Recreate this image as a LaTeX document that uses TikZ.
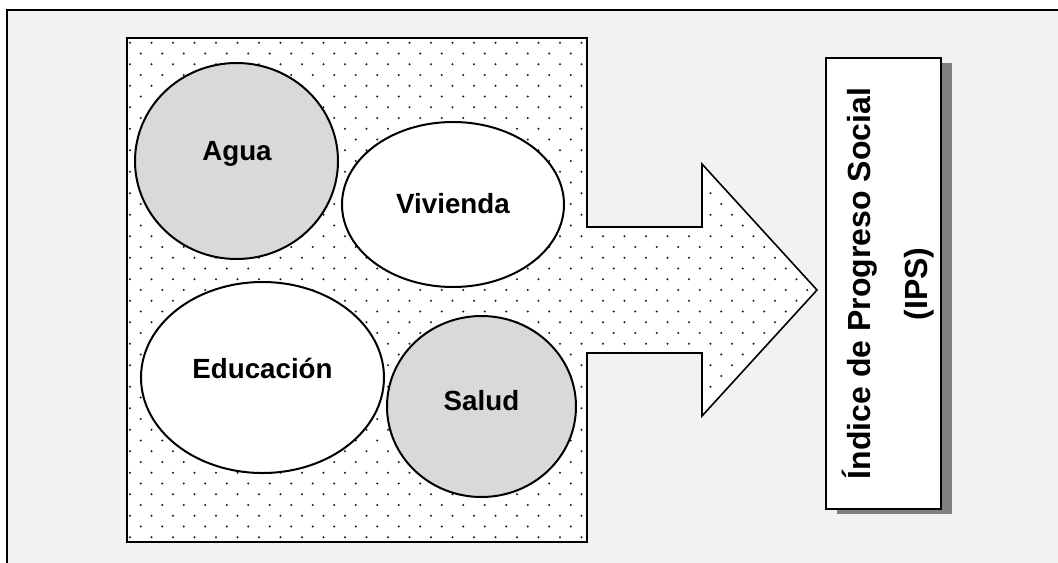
\documentclass[tikz,border=0pt]{standalone}
\usepackage{fontspec}
\setmainfont{Liberation Sans}
\usetikzlibrary{shapes.geometric,shadows}
\definecolor{bggray}{HTML}{F2F2F2}
\definecolor{ellgray}{HTML}{D9D9D9}
\definecolor{dotcol}{HTML}{1A1A1A}
\begin{document}
\begin{tikzpicture}[x=0.75pt,y=-0.75pt,
  bubble/.style={ellipse,draw=black,line width=1.5pt,inner sep=0pt},
  lbl/.style={anchor=base,inner sep=0pt,font=\fontsize{20.8}{24}\selectfont\bfseries},
  boxlbl/.style={anchor=base,inner sep=0pt,rotate=90,font=\fontsize{24}{28}\selectfont\bfseries},
  ipsbox/.style={rectangle,draw=black,line width=1.2pt,fill=white,inner sep=0pt,
    minimum width=86.25pt,minimum height=338.25pt,
    drop shadow={shadow xshift=8.25pt,shadow yshift=-3.75pt,fill=black!50,opacity=1}},
  frame/.style={draw=black,line width=1.2pt,fill=bggray}]
\useasboundingbox (0,0) rectangle (1058,562);
\fill[white] (0,0) rectangle (1058,562);
% outer frame
\path[frame] (7,10) rectangle (1080,590);
% dotted arrow region
\path[fill=white] (127,38) -- (587,38) -- (587,227) -- (702,227) -- (702,164) -- (817,290)
  -- (702,416) -- (702,353) -- (587,353) -- (587,542) -- (127,542) -- cycle;
\begin{scope}
  \clip (127,38) -- (587,38) -- (587,227) -- (702,227) -- (702,164) -- (817,290)
  -- (702,416) -- (702,353) -- (587,353) -- (587,542) -- (127,542) -- cycle;
  \foreach \r in {0,...,47}{
    \foreach \c in {-1,...,32}{
      \pgfmathsetmacro{\xx}{130+21.5*\c+10.75*mod(\r,2)}
      \pgfmathsetmacro{\yy}{42.7+10.75*\r}
      \fill[dotcol] (\xx,\yy) circle[radius=0.9pt];
    }
  }
\end{scope}
\draw[black,line width=1.2pt,line join=miter] (127,38) -- (587,38) -- (587,227) -- (702,227) -- (702,164) -- (817,290)
  -- (702,416) -- (702,353) -- (587,353) -- (587,542) -- (127,542) -- cycle;
% ellipses
\node[bubble,fill=ellgray,minimum width=152.25pt,minimum height=147pt] (agua) at (236.5,161) {};
\node[bubble,fill=white,minimum width=166.5pt,minimum height=123.75pt] (vivienda) at (453,204.5) {};
\node[bubble,fill=white,minimum width=182.25pt,minimum height=143.25pt] (educacion) at (262.5,377.5) {};
\node[bubble,fill=ellgray,minimum width=141.75pt,minimum height=135.75pt] (salud) at (481.5,406.5) {};
\node[lbl] (tagua) at (237,160) {Agua};
\node[lbl] (tvivienda) at (453,213) {Vivienda};
\node[lbl] (teducacion) at (262.5,378) {Educación};
\node[lbl] (tsalud) at (481.5,410) {Salud};
% IPS box
\node[ipsbox] (ips) at (883.5,283.5) {};
\node[boxlbl] (tips1) at (870,283.5) {Índice de Progreso Social};
\node[boxlbl] (tips2) at (927,284) {(IPS)};
\end{tikzpicture}
\end{document}
